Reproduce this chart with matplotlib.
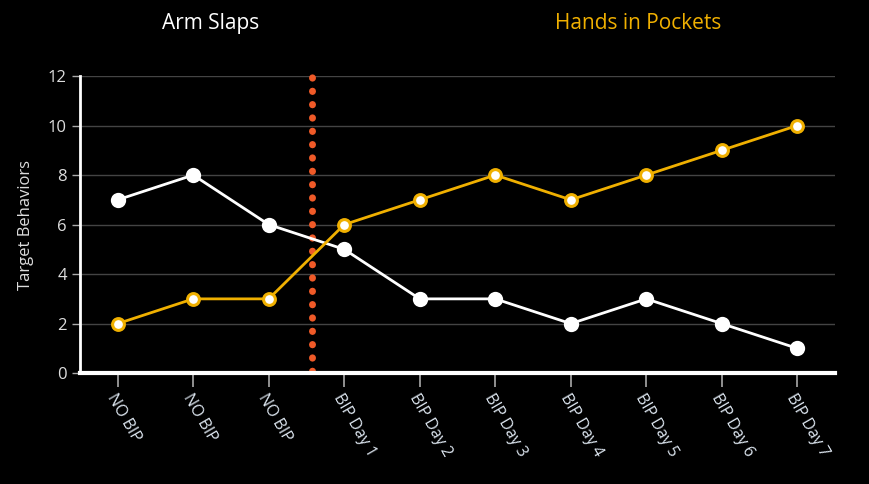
import matplotlib.pyplot as plt
import numpy as np

# Data
categories = ['NO BIP', 'NO BIP', 'NO BIP', 'BIP Day 1', 'BIP Day 2', 'BIP Day 3',
              'BIP Day 4', 'BIP Day 5', 'BIP Day 6', 'BIP Day 7']
arm_slaps = [7, 8, 6, 5, 3, 3, 2, 3, 2, 1]
hands_in_pockets = [2, 3, 3, 6, 7, 8, 7, 8, 9, 10]
phase_change = 2.57

plt.rcParams['font.family'] = ['Open Sans', 'DejaVu Sans']

yellow = '#f0b000'
fig = plt.figure(figsize=(8.69, 4.84), dpi=100, facecolor='black')
ax = fig.add_axes([0.092, 0.229, 0.869, 0.614])
ax.set_facecolor('black')

x = np.arange(len(categories))
ax.plot(x, arm_slaps, color='white', lw=2, marker='o', ms=9,
        mfc='white', mec='white', mew=2, zorder=3)
ax.plot(x, hands_in_pockets, color=yellow, lw=2, marker='o', ms=8.5,
        mfc='white', mec=yellow, mew=2.2, zorder=3)

# Phase change line (dotted)
ax.plot([phase_change, phase_change], [0.1, 12.1], color='#f05a28', lw=5,
        linestyle=(0, (0.05, 1.87)), dash_capstyle='round', zorder=2, clip_on=False)

ax.set_xlim(-0.5, 9.5)
ax.set_ylim(0, 12)
ax.set_yticks(range(0, 13, 2))
ax.set_xticks(x)
ax.set_xticklabels(categories, rotation=-60, ha='left', va='top',
                   rotation_mode='anchor', fontsize=11.5)
ax.tick_params(axis='y', colors='#aaaaaa', labelsize=12, length=6, width=1)
ax.tick_params(axis='x', colors='#aaaaaa', length=10, width=1.2, pad=3)
for lbl in ax.get_xticklabels():
    lbl.set_color('#dde6f0')
for lbl in ax.get_yticklabels():
    lbl.set_color('#dddddd')
ax.grid(axis='y', color='#444444', lw=1)
ax.set_axisbelow(True)

for s in ['top', 'right']:
    ax.spines[s].set_visible(False)
ax.spines['left'].set_color('white')
ax.spines['left'].set_linewidth(2)
ax.spines['bottom'].set_color('white')
ax.spines['bottom'].set_linewidth(3)

ax.set_ylabel('Target Behaviors', color='#dddddd', fontsize=12, labelpad=10)

fig.text(0.242, 0.952, 'Arm Slaps', color='white', fontsize=15, ha='center', va='center')
fig.text(0.734, 0.952, 'Hands in Pockets', color=yellow, fontsize=15, ha='center', va='center')

fig.savefig('out.png', dpi=100, facecolor='black')
